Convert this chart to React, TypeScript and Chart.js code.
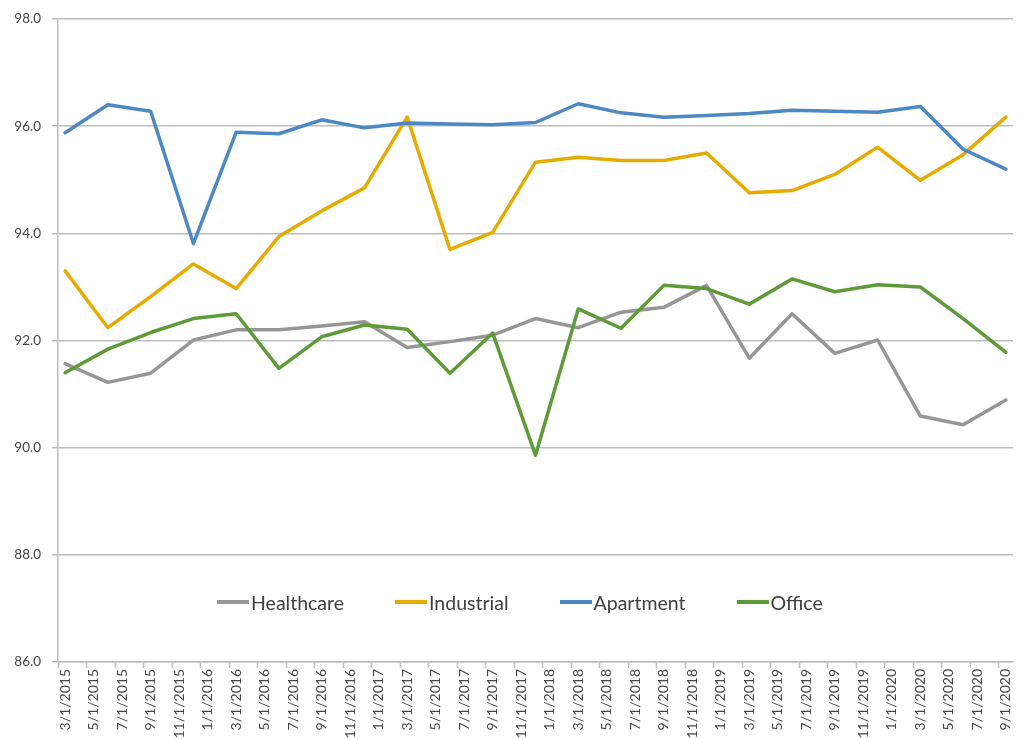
import React, { useEffect, useRef } from 'react';
import { Chart, registerables } from 'chart.js';

Chart.register(...registerables);

// quarterly observation dates
const quarterDates = [
  '3/1/2015', '6/1/2015', '9/1/2015', '12/1/2015',
  '3/1/2016', '6/1/2016', '9/1/2016', '12/1/2016',
  '3/1/2017', '6/1/2017', '9/1/2017', '12/1/2017',
  '3/1/2018', '6/1/2018', '9/1/2018', '12/1/2018',
  '3/1/2019', '6/1/2019', '9/1/2019', '12/1/2019',
  '3/1/2020', '6/1/2020', '9/1/2020'
];

const healthcare = [91.57, 91.22, 91.39, 92.01, 92.2, 92.2, 92.27, 92.35, 91.87, 91.98, 92.1, 92.41, 92.24, 92.53, 92.62, 93.03, 91.67, 92.5, 91.76, 92.01, 90.59, 90.43, 90.89];
const industrial = [93.3, 92.24, 92.82, 93.43, 92.97, 93.94, 94.42, 94.85, 96.17, 93.7, 94.02, 95.33, 95.42, 95.36, 95.36, 95.5, 94.76, 94.8, 95.1, 95.61, 94.99, 95.47, 96.17];
const apartment = [95.88, 96.4, 96.28, 93.81, 95.89, 95.86, 96.12, 95.97, 96.06, 96.04, 96.03, 96.07, 96.42, 96.25, 96.17, 96.2, 96.24, 96.3, 96.28, 96.26, 96.37, 95.57, 95.2];
const office = [91.4, 91.84, 92.15, 92.41, 92.5, 91.48, 92.07, 92.29, 92.21, 91.39, 92.14, 89.86, 92.59, 92.23, 93.03, 92.97, 92.68, 93.15, 92.91, 93.04, 93.0, 92.41, 91.78];

// monthly date axis, 3/1/2015 .. 9/1/2020
const monthLabels: string[] = [];
for (let y = 2015, m = 3; y < 2020 || (y === 2020 && m <= 9); ) {
  monthLabels.push(`${m}/1/${y}`);
  m++;
  if (m > 12) { m = 1; y++; }
}

const yMin = 86;
const yMax = 98;
const yStep = 2;

const series = [
  { label: 'Healthcare', values: healthcare, color: '#969696' },
  { label: 'Industrial', values: industrial, color: '#E5AB00' },
  { label: 'Apartment', values: apartment, color: '#4C88C2' },
  { label: 'Office', values: office, color: '#5E9A38' }
];

const FONT = 'Lato, "Open Sans", sans-serif';
const GRID = '#BDBDBD';
const TEXT = '#454545';

const App = () => {
  const canvasRef = useRef<HTMLCanvasElement>(null);
  const chartRef = useRef<Chart | null>(null);

  useEffect(() => {
    if (chartRef.current) chartRef.current.destroy();
    const ctx = canvasRef.current!.getContext('2d')!;
    chartRef.current = new Chart(ctx, {
      type: 'line',
      data: {
        labels: monthLabels,
        datasets: series.map((s, i) => ({
          label: s.label,
          data: quarterDates.map((d, j) => ({ x: d, y: s.values[j] })),
          borderColor: s.color,
          backgroundColor: s.color,
          borderWidth: 3.5,
          pointRadius: 0,
          tension: 0,
          borderCapStyle: 'round',
          borderJoinStyle: 'round',
          order: series.length - i
        }))
      },
      options: {
        animation: false,
        responsive: false,
        maintainAspectRatio: false,
        layout: { padding: { left: 0, right: 11, top: 18, bottom: 0 } },
        plugins: {
          legend: { display: false },
          tooltip: { enabled: false }
        },
        scales: {
          x: {
            type: 'category',
            offset: true,
            border: { display: true, color: GRID, width: 1.5 },
            grid: {
              offset: true,
              drawOnChartArea: false,
              drawTicks: true,
              tickLength: 6,
              tickWidth: 1.5,
              tickColor: (c: any) => (typeof c.index === 'number' && c.index % 2 === 0 ? GRID : 'rgba(0,0,0,0)')
            },
            ticks: {
              autoSkip: false,
              maxRotation: 90,
              minRotation: 90,
              padding: 1,
              color: TEXT,
              font: { family: FONT, size: 14 },
              callback: (v: any, i: number) => (i % 2 === 0 ? monthLabels[i] : '')
            },
            afterFit: (scale: any) => { scale.height = 77; }
          },
          y: {
            min: yMin,
            max: yMax,
            border: { display: true, color: GRID, width: 1.5 },
            grid: { color: GRID, lineWidth: 1.5, tickLength: 6, tickColor: GRID },
            ticks: {
              stepSize: yStep,
              padding: 11,
              color: TEXT,
              font: { family: FONT, size: 13.5 },
              callback: (v: any) => Number(v).toFixed(1)
            },
            afterFit: (scale: any) => { scale.width = 58; }
          }
        }
      }
    });
    return () => {
      if (chartRef.current) {
        chartRef.current.destroy();
        chartRef.current = null;
      }
    };
  }, []);

  return (
    <div style={{ position: 'fixed', left: 0, top: 0, width: 1024, height: 739, background: '#fff' }}>
      <canvas ref={canvasRef} width={1024} height={739} style={{ width: 1024, height: 739, display: 'block' }} />
      <div
        style={{
          position: 'absolute', left: 217, top: 590, height: 24,
          display: 'flex', alignItems: 'center', gap: 51,
          fontFamily: FONT, fontSize: 19.5, color: '#404040', whiteSpace: 'nowrap'
        }}
      >
        {series.map(s => (
          <div key={s.label} style={{ display: 'flex', alignItems: 'center' }}>
            <span style={{ display: 'inline-block', width: 32, height: 3.5, background: s.color, marginRight: 2 }} />
            <span>{s.label}</span>
          </div>
        ))}
      </div>
    </div>
  );
};

export default App;
